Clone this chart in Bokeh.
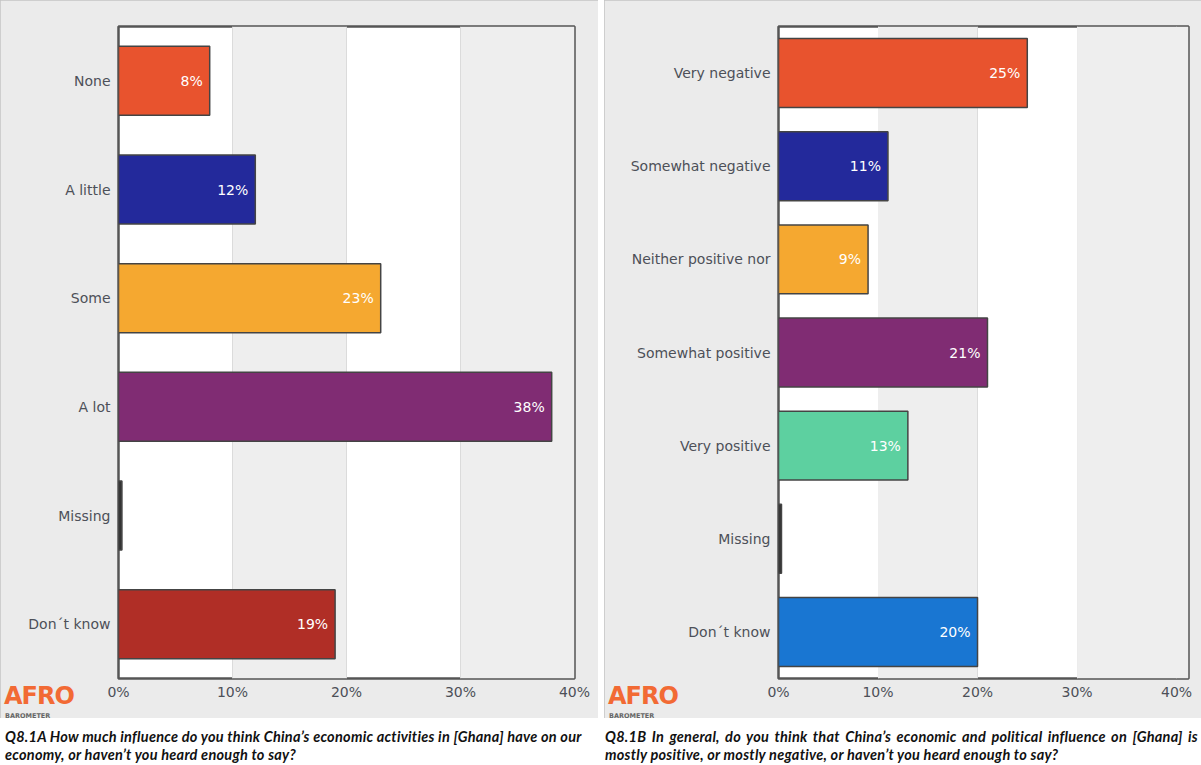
from bokeh.plotting import figure
from bokeh.models import FactorRange, Range1d, FixedTicker, BoxAnnotation, Div, ColumnDataSource
from bokeh.layouts import row, column
from bokeh.core.properties import value
from bokeh.embed import file_html
from bokeh.resources import INLINE

# ---- data ----
cats_a = ["None", "A little", "Some", "A lot", "Missing", "Don\u00b4t know"]
vals_a = [8, 12, 23, 38, 0.3, 19]
labels_a = ["8%", "12%", "23%", "38%", "", "19%"]
colors_a = ["#e8532e", "#23299b", "#f5a830", "#802c73", "#333333", "#b02e26"]

cats_b = ["Very negative", "Somewhat negative", "Neither positive nor", "Somewhat positive",
          "Very positive", "Missing", "Don\u00b4t know"]
vals_b = [25, 11, 9, 21, 13, 0.3, 20]
labels_b = ["25%", "11%", "9%", "21%", "13%", "", "20%"]
colors_b = ["#e8532e", "#23299b", "#f5a830", "#802c73", "#5dd0a0", "#333333", "#1976d2"]

x_ticks = [0, 10, 20, 30, 40]
x_tick_labels = ["0%", "10%", "20%", "30%", "40%"]
bands = [(10, 20), (30, None)]

caption_a = ["Q8.1A How much influence do you think China\u2019s economic activities in [Ghana] have on our",
             "economy, or haven\u2019t you heard enough to say?"]
caption_b = ["Q8.1B In general, do you think that China\u2019s economic and political influence on [Ghana] is",
             "mostly positive, or mostly negative, or haven\u2019t you heard enough to say?"]

FONT = "DejaVu Sans"
PANEL_BG = "#ebebeb"
TXT = "#4d5058"


def make_panel(cats, vals, labels, colors, width, left, right, x_end, bar_h):
    src = ColumnDataSource(dict(cat=cats, val=vals, label=labels, color=colors))
    p = figure(width=width, height=718, y_range=FactorRange(*reversed(cats)),
               x_range=Range1d(0, x_end), output_backend="svg", toolbar_location=None,
               min_border_left=left, min_border_right=right, min_border_top=26,
               min_border_bottom=40)
    p.border_fill_color = PANEL_BG
    p.background_fill_color = "white"
    p.outline_line_color = "#555555"
    p.outline_line_width = 2.5

    for b0, b1 in bands:
        p.add_layout(BoxAnnotation(left=b0, right=b1, fill_color="#eeeeee", fill_alpha=1,
                                   line_color=None, level="underlay"))

    p.hbar(y="cat", right="val", left=0, height=bar_h, source=src, fill_color="color",
           line_color="#444444", line_width=1.5)
    p.text(x="val", y="cat", text="label", source=src, x_offset=-7, text_align="right",
           text_baseline="middle", text_color="white", text_font=value(FONT),
           text_font_size="14px")

    p.xaxis.ticker = FixedTicker(ticks=x_ticks)
    p.xaxis.major_label_overrides = {t: l for t, l in zip(x_ticks, x_tick_labels)}
    p.xaxis.axis_line_color = None
    p.xaxis.major_tick_line_color = None
    p.xaxis.major_tick_out = 0
    p.xaxis.minor_tick_line_color = None
    p.xaxis.major_label_text_font = FONT
    p.xaxis.major_label_text_font_size = "14px"
    p.xaxis.major_label_text_color = TXT
    p.xaxis.major_label_standoff = 5

    p.yaxis.axis_line_color = None
    p.yaxis.major_tick_line_color = None
    p.yaxis.major_tick_out = 0
    p.yaxis.minor_tick_line_color = None
    p.yaxis.major_label_text_font = FONT
    p.yaxis.major_label_text_font_size = "14px"
    p.yaxis.major_label_text_color = TXT
    p.yaxis.major_label_standoff = 8

    p.ygrid.grid_line_color = None
    p.xgrid.ticker = FixedTicker(ticks=x_ticks)
    p.xgrid.grid_line_color = "#c8c8c8"
    p.xgrid.grid_line_width = 1
    p.styles = {"box-shadow": "inset 0 0 0 1px #c4c4c4"}
    return p


p1 = make_panel(cats_a, vals_a, labels_a, colors_a, 598, 118, 24, 40, 0.635)
p2 = make_panel(cats_b, vals_b, labels_b, colors_b, 597, 174, 13, 41.2, 0.74)

cap_style = ("font-family:Lato; font-weight:bold; font-style:italic; font-size:14.5px; "
             "letter-spacing:0.25px; line-height:17.5px; color:#111; white-space:nowrap;")
logo = ('<div style="position:absolute; left:4px; top:-34px; font-family:\'DejaVu Sans\'; '
        'font-weight:bold; font-size:24px; line-height:24px; color:#f26a34; letter-spacing:-1px;">AFRO</div>'
        '<div style="position:absolute; left:5px; top:-5px; font-family:\'DejaVu Sans\'; '
        'font-weight:bold; font-size:6.5px; line-height:7px; color:#666;">BAROMETER</div>')


def caption_div(lines, width, left, justify_first):
    first_style = cap_style + (" text-align:justify; text-align-last:justify; white-space:normal;"
                               if justify_first else "")
    html = (f'<div style="position:relative; width:{width}px; height:45px;">{logo}'
            f'<div style="position:absolute; left:{left}px; top:10px; width:{width - left - 3}px;">'
            f'<div style="{first_style}">{lines[0]}</div>'
            f'<div style="{cap_style}">{lines[1]}</div></div></div>')
    return Div(text=html, width=width, height=45, margin=0,
               styles={"overflow": "visible"})


d1 = caption_div(caption_a, 598, 5, False)
d2 = caption_div(caption_b, 597, 1, True)

layout = column(row(p1, p2, spacing=6), row(d1, d2, spacing=6), spacing=0)

open("out.html", "w").write(file_html(layout, INLINE))
